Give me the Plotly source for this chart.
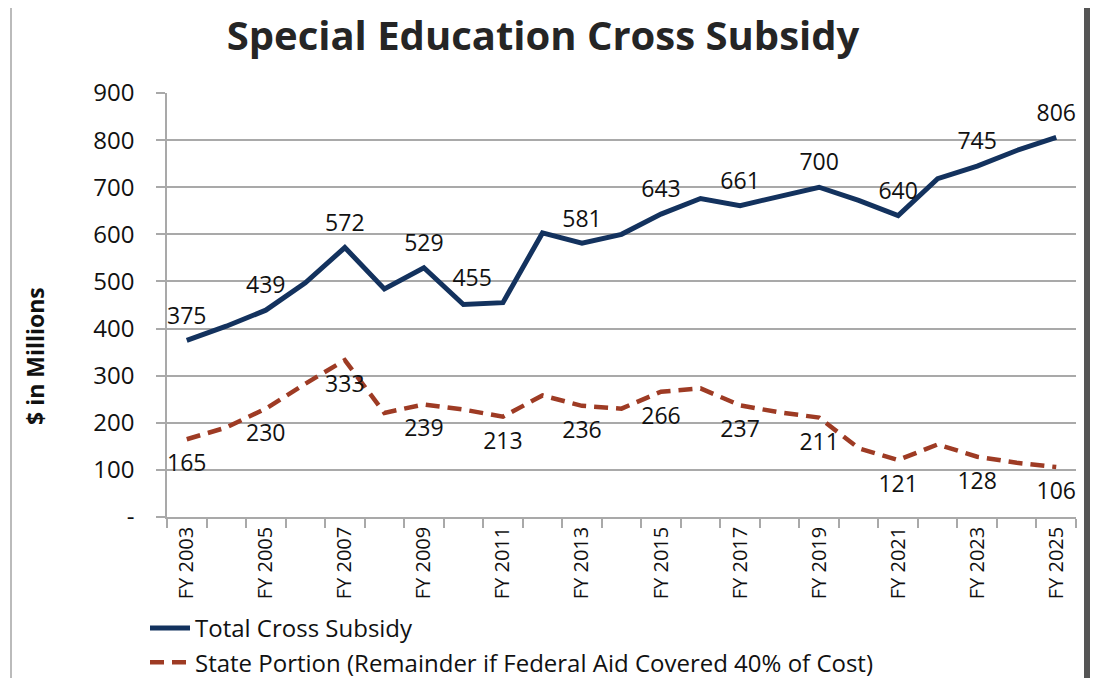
import plotly.graph_objects as go

years = list(range(2003, 2026))
total = [375, 405, 439, 497, 572, 484, 529, 451, 455, 603, 581, 600, 643, 676, 661, 680, 700, 672, 640, 718, 745, 778, 806]
state = [165, 190, 230, 283, 333, 221, 239, 228, 213, 258, 236, 230, 266, 273, 237, 222, 211, 146, 121, 154, 128, 115, 106]
tick_years = [y for y in years if y % 2 == 1]
tick_text = ["FY %d" % y for y in tick_years]
y_ticks = [0, 100, 200, 300, 400, 500, 600, 700, 800, 900]
y_text = ["-"] + [str(v) for v in y_ticks[1:]]

NAVY = "#13325e"
BROWN = "#9e3b24"
GRID = "#a9a9a9"
FONT = "Open Sans"

total_text = [str(v) if y % 2 == 1 else "" for y, v in zip(years, total)]
state_text = [str(v) if y % 2 == 1 else "" for y, v in zip(years, state)]
total_pos = ["top left" if y == 2011 else "top center" for y in years]

# the page body has an 8px margin; the figure is drawn 8px in from the top-left corner
OFF = 8
W, H = 1098 - OFF, 686 - 2 * OFF
L, T = 167 - OFF, 93 - OFF
R, B = 22, (686 - 517) - OFF
PW = W - L - R
PH = H - T - B


def px_x(x):
    return (x - OFF - L) / PW


def px_y(y):
    return (H - B - (y - OFF)) / PH


fig = go.Figure()
fig.add_trace(go.Scatter(
    x=years, y=total, mode="lines", name="Total Cross Subsidy",
    line=dict(color=NAVY, width=5),
))
fig.add_trace(go.Scatter(
    x=years, y=state, mode="lines",
    name="State Portion (Remainder if Federal Aid Covered 40% of Cost)",
    line=dict(color=BROWN, width=4.5, dash="14px,8px"),
))
# value labels (invisible markers only used to offset the text from the line)
fig.add_trace(go.Scatter(
    x=years, y=total, mode="markers+text", showlegend=False, hoverinfo="skip",
    marker=dict(size=16, opacity=0),
    text=total_text, textposition=total_pos,
    textfont=dict(family=FONT, size=23, color="#111111"),
))
fig.add_trace(go.Scatter(
    x=years, y=state, mode="markers+text", showlegend=False, hoverinfo="skip",
    marker=dict(size=22, opacity=0),
    text=state_text, textposition="bottom center",
    textfont=dict(family=FONT, size=23, color="#111111"),
))

fig.update_layout(
    width=W, height=H,
    paper_bgcolor="white", plot_bgcolor="white",
    margin=dict(l=L, r=R, t=T, b=B, autoexpand=False),
    title=dict(text="<b>Special Education Cross Subsidy</b>",
               font=dict(family=FONT, size=40, color="#252525"),
               xref="container", x=(543 - OFF) / W, xanchor="center",
               yref="container", y=1 - (36 - OFF) / H, yanchor="middle"),
    showlegend=True,
    legend=dict(orientation="v", xref="container", x=(145 - OFF) / W, xanchor="left",
                yref="container", y=1 - (606 - OFF) / H, yanchor="top",
                font=dict(family=FONT, size=24, color="#111111"),
                bgcolor="rgba(0,0,0,0)", tracegroupgap=0, itemwidth=40),
    xaxis=dict(range=[2002.5, 2025.5], tickmode="array", tickvals=tick_years, ticktext=tick_text,
               tickangle=-90, ticks="", showgrid=False, zeroline=False,
               showline=True, linecolor=GRID, linewidth=1.5, automargin=False,
               tickfont=dict(family=FONT, size=20, color="#111111"),
               minor=dict(ticks="outside", tick0=2002.5, dtick=1, ticklen=9,
                          tickcolor=GRID, tickwidth=1.5, showgrid=False)),
    yaxis=dict(range=[0, 900], tickmode="array", tickvals=y_ticks, ticktext=y_text,
               showgrid=True, gridcolor=GRID, gridwidth=1.5, zeroline=False,
               showline=True, linecolor=GRID, linewidth=1.5, automargin=False,
               ticks="outside", ticklen=9, tickcolor=GRID, tickwidth=1.5,
               ticklabelstandoff=17,
               tickfont=dict(family=FONT, size=24, color="#111111")),
)

fig.add_annotation(text="<b>$ in Millions</b>", xref="paper", yref="paper",
                   x=px_x(35), y=px_y(356), xanchor="center", yanchor="middle",
                   textangle=-90, showarrow=False,
                   font=dict(family=FONT, size=23, color="#111111"))

# page frame
fig.add_shape(type="line", xref="paper", yref="paper",
              x0=px_x(11), x1=px_x(11), y0=px_y(700), y1=px_y(0),
              line=dict(color="#bbbbbb", width=2))
fig.add_shape(type="rect", xref="paper", yref="paper",
              x0=px_x(1084), x1=px_x(1100), y0=px_y(700), y1=px_y(0),
              line=dict(width=0), fillcolor="#555555")

fig.write_html("out.html")
